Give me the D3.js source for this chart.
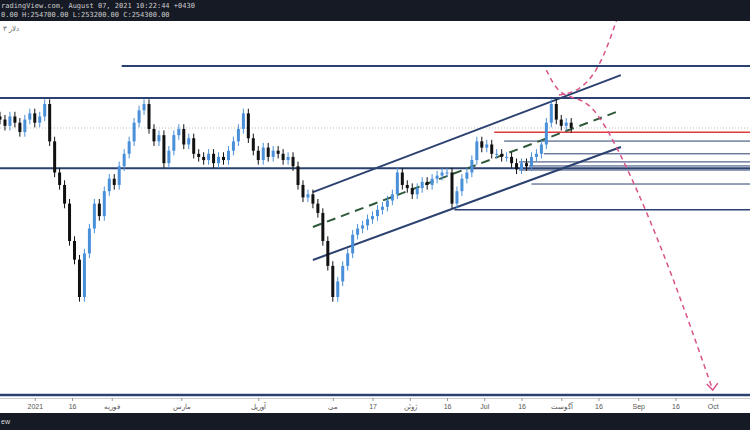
<!DOCTYPE html>
<html><head><meta charset="utf-8">
<script src="https://cdn.jsdelivr.net/npm/d3@7"></script>
<style>body{margin:0;background:#fff}svg{display:block;font-family:"Liberation Sans",Arial,sans-serif}</style>
</head><body><div id="chart"></div>
<script>
// closes (thousands), one candle every 2 days from 2020-12-18
var closes = [257,255,258,256,253,257,259,256,258,262,250,240,236,230,218,212,200,214,222,230,
  226,234,238,236,242,246,250,256,260,262,254,250,252,243,247,252,254,249,251,246,
  245,244,246,243,245,244,247,250,254,259,251,247,244,248,245,247,246,244,245,242,
  236,232,233,230,227,218,210,200,205,210,214,220,222,223,225,226,228,229,231,233,
  240,236,235,233,235,237,236,238,239,240,240,230,234,238,240,244,250,248,249,246,
  246,245,245,243,241,243,242,245,246,249,256,262,257,255,256,254.3];
var startDate = "2020-12-18";
var tickDates = ["2021-01-01","2021-01-16","2021-02-01","2021-03-01","2021-04-01","2021-05-01","2021-05-17","2021-06-01","2021-06-16","2021-07-01","2021-07-16","2021-08-01","2021-08-16","2021-09-01","2021-09-16","2021-10-01"];
var tickLabels = ["2021","16","فوریه","مارس","آوریل","می","17","ژوئن","16","Jul","16","آگوست","16","Sep","16","Oct"];
var hLines = [ // [from date, price, color, width]
  ["2021-02-05",274.2,"#2b4170",2],["2020-12-18",263.9,"#2b4170",2],["2020-12-18",241.4,"#2b4170",2],
  ["2020-12-18",168.5,"#2b4170",2.5],["2021-07-05",252.9,"#e03a3a",1.5],
  ["2021-07-09",250.1,"#2b4170",1],["2021-07-25",246,"#2b4170",1],["2021-07-15",243.4,"#2b4170",1],
  ["2021-07-19",242.1,"#2b4170",1],["2021-07-15",240.8,"#2b4170",1],["2021-07-20",236.3,"#2b4170",1],
  ["2021-06-19",228,"#2b4170",1.5]];
var channel = [[["2021-04-23",233.7],["2021-08-25",271.3]],[["2021-04-23",211.9],["2021-08-25",248.2]]];
var midLine = [["2021-04-23",222.5],["2021-08-25",260]];
var pathA = [["2021-07-26",272.9],["2021-07-31",264.9],["2021-08-08",263.9],["2021-08-16",260.1],["2021-09-01",234.4],["2021-09-17",202.2],["2021-10-01",170.1]];
var pathB = [["2021-07-31",264.9],["2021-08-08",265.9],["2021-08-16",272.9],["2021-08-22",285.8],["2021-08-26",295.4]];

var W = 750, H = 430;
var svg = d3.select("#chart").append("svg").attr("width", W).attr("height", H);
var parse = d3.timeParse("%Y-%m-%d");
var x = d3.scaleTime().domain([parse("2020-12-18"), parse("2021-10-16")]).range([0, W]);
var y = d3.scaleLinear().domain([200, 280]).range([297, 48]);

svg.append("defs").append("clipPath").attr("id","clip").append("rect").attr("x",0).attr("y",20).attr("width",W).attr("height",378);
var g = svg.append("g").attr("clip-path","url(#clip)");

// dotted last-price line
g.append("line").attr("x1",0).attr("x2",W).attr("y1",y(254.3)).attr("y2",y(254.3))
  .attr("stroke","#bbb").attr("stroke-dasharray","1,2");

hLines.forEach(function(d){
  g.append("line").attr("x1",x(parse(d[0]))).attr("x2",W).attr("y1",y(d[1])).attr("y2",y(d[1]))
    .attr("stroke",d[2]).attr("stroke-width",d[3]);
});

var line = d3.line().x(d => x(parse(d[0]))).y(d => y(d[1]));
channel.forEach(function(c){
  g.append("path").attr("d",line(c)).attr("stroke","#2b4170").attr("stroke-width",2).attr("fill","none");
});
g.append("path").attr("d",line(midLine)).attr("stroke","#2f5a3a").attr("stroke-width",2).attr("stroke-dasharray","9,6").attr("fill","none");

// candles
var t0 = parse(startDate);
var candles = closes.map(function(c, i){
  var o = i ? closes[i-1] : c + 1;
  return {date: d3.timeDay.offset(t0, 2*i), o: o, c: c, h: Math.max(o,c)+1.5, l: Math.min(o,c)-1.5};
});
var cg = g.selectAll(".c").data(candles).enter().append("g");
cg.append("line").attr("x1",d=>x(d.date)).attr("x2",d=>x(d.date)).attr("y1",d=>y(d.h)).attr("y2",d=>y(d.l))
  .attr("stroke",d=>d.c>=d.o?"#4a90d9":"#111");
cg.append("rect").attr("x",d=>x(d.date)-1.5).attr("width",3)
  .attr("y",d=>y(Math.max(d.o,d.c))).attr("height",d=>Math.max(1,Math.abs(y(d.o)-y(d.c))))
  .attr("fill",d=>d.c>=d.o?"#4a90d9":"#111");

var curve = d3.line().x(d => x(parse(d[0]))).y(d => y(d[1])).curve(d3.curveBasis);
[pathA, pathB].forEach(function(p){
  g.append("path").attr("d",curve(p)).attr("stroke","#d9538a").attr("stroke-width",1.5)
    .attr("stroke-dasharray","5,4").attr("fill","none");
});
var end = pathA[pathA.length-1];
g.append("path").attr("d","M"+(x(parse(end[0]))-6)+","+(y(end[1])-6)+"L"+x(parse(end[0]))+","+y(end[1])+"L"+(x(parse(end[0]))+5)+","+(y(end[1])-7))
  .attr("stroke","#d9538a").attr("stroke-width",1.5).attr("fill","none");

// header
svg.append("rect").attr("width",W).attr("height",21).attr("fill","#161a25");
svg.append("text").attr("x",1).attr("y",8).attr("fill","#ccc").attr("font-size",7).attr("font-family","DejaVu Sans Mono")
  .text("radingView.com, August 07, 2021 10:22:44 +0430");
svg.append("text").attr("x",1).attr("y",17).attr("fill","#ccc").attr("font-size",7).attr("font-family","DejaVu Sans Mono")
  .text("0.00 H:254700.00 L:253200.00 C:254300.00");
svg.append("text").attr("x",3).attr("y",31).attr("fill","#666").attr("font-size",7).text("دلار ۳");

// axis
svg.append("line").attr("x1",0).attr("x2",W).attr("y1",398.5).attr("y2",398.5).attr("stroke","#ccc");
var ax = svg.append("g").attr("transform","translate(0,398)")
  .call(d3.axisBottom(x).tickValues(tickDates.map(parse)).tickSize(3).tickFormat((d,i)=>tickLabels[i]));
ax.select(".domain").remove();
ax.selectAll("line").attr("stroke","#999");
ax.selectAll("text").attr("fill","#555").attr("font-size",7);
svg.append("rect").attr("y",413).attr("width",W).attr("height",17).attr("fill","#161a25");
svg.append("text").attr("x",1).attr("y",424).attr("fill","#ddd").attr("font-size",7).text("ew");
</script></body></html>
